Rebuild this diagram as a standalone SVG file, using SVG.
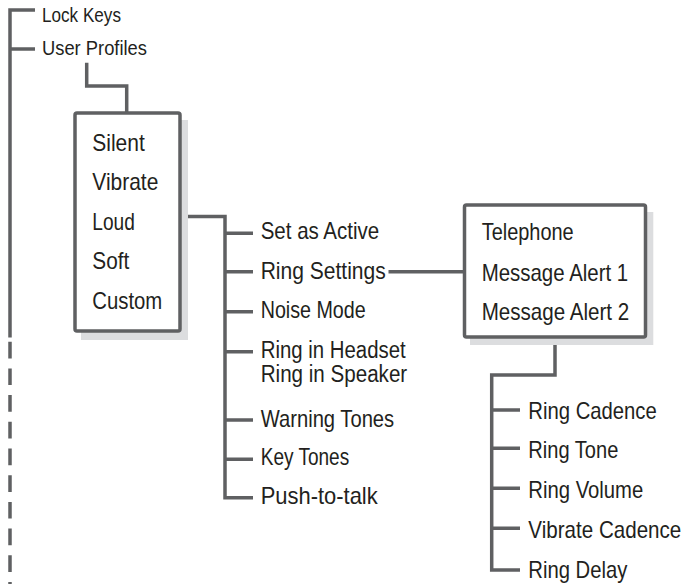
<svg xmlns="http://www.w3.org/2000/svg" width="683" height="584" viewBox="0 0 683 584">
<style>
.ln{fill:none;stroke:#5f6062;stroke-width:3.5;stroke-linejoin:miter;stroke-linecap:butt}
.dash{stroke-dasharray:16.7 10}
.box{fill:#fff;stroke:#5f6062;stroke-width:3.5}
.sh{fill:#dcdddf}
text{font-family:"Liberation Sans","DejaVu Sans",Arial,sans-serif;fill:#231f20;font-size:24px}
.sm{font-size:20.5px}
.tight{font-size:23px}
</style>
<rect width="683" height="584" fill="#fff"/>
<g id="connectors">
<path class="ln" d="M35 10 H10 V337.5"/>
<path class="ln" d="M10 49 H35"/>
<path class="ln dash" d="M10 341.7 V584"/>
<path class="ln" d="M86.7 62.7 V86 H126.7 V113"/>
<path class="ln" d="M180 216.5 H225 V497.7 H253"/>
<path class="ln" d="M225 233.3 H253 M225 271.7 H253 M225 311.7 H253 M225 351.7 H253 M225 420 H253 M225 459.3 H253"/>
<path class="ln" d="M388.5 271.7 H464"/>
<path class="ln" d="M555 337 V375 H491.7 V570 H520"/>
<path class="ln" d="M491.7 410 H520 M491.7 448.3 H520 M491.7 488.3 H520 M491.7 528.3 H520"/>
</g>
<g id="lock-keys"><text class="sm" x="42" y="22.3" textLength="79" lengthAdjust="spacingAndGlyphs">Lock Keys</text></g>
<g id="user-profiles"><text class="sm" x="42" y="55" textLength="105" lengthAdjust="spacingAndGlyphs">User Profiles</text></g>
<g id="profiles-box">
<rect class="sh" x="81" y="120" width="107" height="220"/>
<rect class="box" x="75" y="113" width="105" height="218" rx="2"/>
<text x="92.3" y="151" textLength="52.5" lengthAdjust="spacingAndGlyphs">Silent</text>
<text x="92.3" y="190.3" textLength="66" lengthAdjust="spacingAndGlyphs">Vibrate</text>
<text x="92.3" y="229.5" textLength="42.5" lengthAdjust="spacingAndGlyphs">Loud</text>
<text x="92.3" y="269.3" textLength="37" lengthAdjust="spacingAndGlyphs">Soft</text>
<text x="92.3" y="309" textLength="70" lengthAdjust="spacingAndGlyphs">Custom</text>
</g>
<g id="settings-list">
<text x="260.7" y="239.3" textLength="118.5" lengthAdjust="spacingAndGlyphs">Set as Active</text>
<text x="260.7" y="279.3" textLength="125" lengthAdjust="spacingAndGlyphs">Ring Settings</text>
<text x="260.7" y="318.3" textLength="105" lengthAdjust="spacingAndGlyphs">Noise Mode</text>
<text class="tight" x="260.7" y="358.3" textLength="145" lengthAdjust="spacingAndGlyphs">Ring in Headset</text>
<text class="tight" x="260.7" y="381.7" textLength="146.5" lengthAdjust="spacingAndGlyphs">Ring in Speaker</text>
<text x="260.7" y="426.7" textLength="133.5" lengthAdjust="spacingAndGlyphs">Warning Tones</text>
<text x="260.7" y="465" textLength="88.5" lengthAdjust="spacingAndGlyphs">Key Tones</text>
<text x="260.7" y="504" textLength="117" lengthAdjust="spacingAndGlyphs">Push-to-talk</text>
</g>
<g id="alerts-box">
<rect class="sh" x="470" y="212" width="183.3" height="133"/>
<rect class="box" x="464.5" y="205" width="181" height="132" rx="2"/>
<text x="481.7" y="240" textLength="92" lengthAdjust="spacingAndGlyphs">Telephone</text>
<text x="481.7" y="280.7" textLength="146.5" lengthAdjust="spacingAndGlyphs">Message Alert 1</text>
<text x="481.7" y="320" textLength="147.5" lengthAdjust="spacingAndGlyphs">Message Alert 2</text>
</g>
<g id="ring-list">
<text x="528.3" y="419.3" textLength="128.5" lengthAdjust="spacingAndGlyphs">Ring Cadence</text>
<text x="528.3" y="458.3" textLength="90" lengthAdjust="spacingAndGlyphs">Ring Tone</text>
<text x="528.3" y="498.3" textLength="115" lengthAdjust="spacingAndGlyphs">Ring Volume</text>
<text x="528.3" y="538.3" textLength="153" lengthAdjust="spacingAndGlyphs">Vibrate Cadence</text>
<text x="528.3" y="578.3" textLength="99" lengthAdjust="spacingAndGlyphs">Ring Delay</text>
</g>
</svg>
